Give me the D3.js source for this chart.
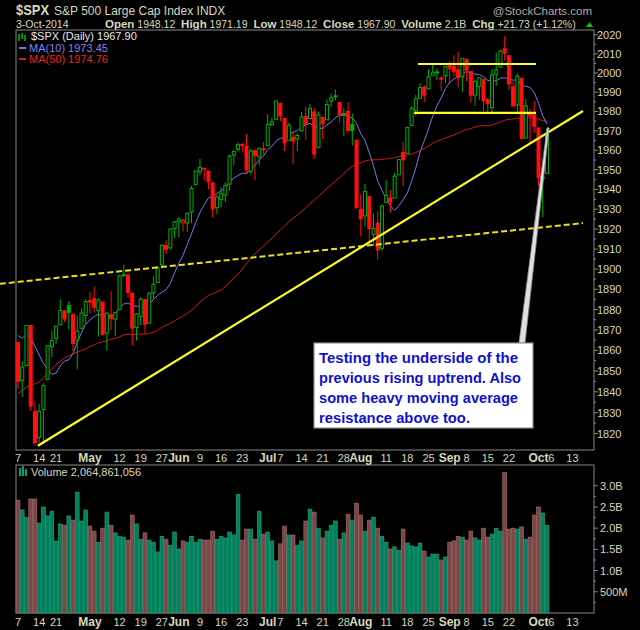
<!DOCTYPE html>
<html><head><meta charset="utf-8">
<script src="https://cdn.jsdelivr.net/npm/d3@7"></script>
<style>body{margin:0;background:#000}svg{display:block}</style>
</head><body><svg id="c" width="640" height="630"></svg>
<script>
// ---- DATA ----
const dates = ["Apr 7","Apr 8","Apr 9","Apr 10","Apr 11","Apr 14","Apr 15","Apr 16","Apr 17","Apr 21","Apr 22","Apr 23","Apr 24","Apr 25","Apr 28","Apr 29","Apr 30",
"May 1","May 2","May 5","May 6","May 7","May 8","May 9","May 12","May 13","May 14","May 15","May 16","May 19","May 20","May 21","May 22","May 23","May 27","May 28","May 29","May 30",
"Jun 2","Jun 3","Jun 4","Jun 5","Jun 6","Jun 9","Jun 10","Jun 11","Jun 12","Jun 13","Jun 16","Jun 17","Jun 18","Jun 19","Jun 20","Jun 23","Jun 24","Jun 25","Jun 26","Jun 27","Jun 30",
"Jul 1","Jul 2","Jul 3","Jul 7","Jul 8","Jul 9","Jul 10","Jul 11","Jul 14","Jul 15","Jul 16","Jul 17","Jul 18","Jul 21","Jul 22","Jul 23","Jul 24","Jul 25","Jul 28","Jul 29","Jul 30","Jul 31",
"Aug 1","Aug 4","Aug 5","Aug 6","Aug 7","Aug 8","Aug 11","Aug 12","Aug 13","Aug 14","Aug 15","Aug 18","Aug 19","Aug 20","Aug 21","Aug 22","Aug 25","Aug 26","Aug 27","Aug 28","Aug 29",
"Sep 2","Sep 3","Sep 4","Sep 5","Sep 8","Sep 9","Sep 10","Sep 11","Sep 12","Sep 15","Sep 16","Sep 17","Sep 18","Sep 19","Sep 22","Sep 23","Sep 24","Sep 25","Sep 26","Sep 29","Sep 30",
"Oct 1","Oct 2","Oct 3"];
const open = [1863.92,1845.48,1852.64,1872.28,1830.65,1818.18,1831.45,1846.01,1861.73,1865.79,1872.57,1879.32,1881.97,1877.72,1865.00,1870.78,1877.10,
1884.39,1885.30,1879.45,1883.69,1868.53,1877.39,1875.27,1880.03,1896.75,1897.13,1888.16,1871.19,1876.66,1884.88,1873.34,1888.19,1893.32,1902.01,1911.77,1910.60,1920.33,
1923.87,1923.07,1923.06,1928.52,1942.41,1948.97,1950.34,1949.37,1943.35,1930.80,1934.84,1937.15,1942.73,1957.50,1960.45,1962.92,1961.97,1949.27,1959.89,1956.56,1960.79,
1962.29,1973.06,1975.88,1984.22,1976.39,1965.10,1966.67,1965.76,1969.86,1977.36,1976.35,1979.75,1961.54,1976.93,1975.65,1985.32,1988.07,1984.60,1978.25,1980.03,1973.21,1965.14,
1929.80,1926.62,1936.34,1917.29,1923.03,1910.35,1933.43,1935.73,1935.60,1947.41,1958.87,1958.36,1972.73,1980.46,1986.82,1992.60,1991.74,1998.59,2000.54,1997.42,1998.45,
2004.07,2003.57,2001.67,1998.00,2007.17,2000.73,1988.41,1992.85,1996.74,1986.04,1981.93,1999.30,2003.07,2012.74,2009.08,1992.78,1983.34,1997.32,1966.22,1978.96,1978.21,
1971.44,1945.83,1948.12];
const high = [1864.04,1854.95,1872.43,1872.53,1835.07,1834.19,1844.02,1862.31,1869.63,1871.89,1884.89,1879.75,1884.06,1877.72,1877.01,1880.60,1885.20,
1888.59,1891.33,1885.51,1883.69,1878.83,1889.07,1878.57,1897.13,1902.17,1897.13,1888.16,1878.28,1886.00,1884.88,1888.80,1896.33,1901.26,1912.28,1914.46,1920.03,1924.03,
1925.88,1925.07,1928.63,1941.74,1949.44,1955.55,1950.86,1949.37,1943.35,1937.30,1941.15,1943.69,1957.74,1959.87,1963.91,1963.74,1968.17,1960.83,1959.89,1961.47,1964.24,
1978.58,1976.67,1985.59,1984.22,1976.39,1974.15,1969.84,1968.67,1979.85,1982.52,1983.94,1981.80,1979.91,1976.93,1986.24,1989.23,1991.39,1984.60,1981.52,1984.85,1978.90,1965.14,
1937.35,1942.92,1936.34,1927.91,1928.89,1932.38,1944.90,1939.65,1948.41,1955.23,1964.04,1971.99,1982.57,1988.57,1994.76,1993.54,2001.95,2005.04,2002.14,1998.55,2003.38,
2006.12,2009.28,2011.17,2007.71,2007.17,2001.01,1996.66,1997.65,1996.74,1987.18,2002.28,2010.74,2012.34,2019.26,2009.08,1995.41,1999.79,1997.32,1986.37,1981.28,1985.17,
1971.44,1952.32,1971.19];
const low = [1841.48,1837.49,1852.38,1830.87,1814.36,1815.80,1816.29,1846.01,1856.72,1863.18,1872.57,1873.91,1870.24,1859.70,1850.61,1870.78,1872.69,
1878.04,1878.50,1866.77,1867.72,1859.79,1870.05,1867.02,1880.03,1896.06,1885.77,1862.36,1864.82,1872.42,1868.14,1873.34,1885.39,1893.32,1902.01,1907.30,1909.82,1915.65,
1915.98,1918.79,1918.60,1922.93,1942.41,1947.16,1944.64,1940.08,1925.78,1927.69,1930.91,1933.55,1939.29,1952.26,1959.17,1958.89,1948.34,1947.49,1944.69,1952.18,1958.22,
1962.29,1972.58,1975.88,1974.88,1959.46,1965.10,1952.86,1959.63,1969.86,1965.34,1975.67,1955.59,1960.82,1965.77,1975.65,1982.44,1985.79,1974.37,1967.31,1969.95,1962.42,1930.67,
1916.37,1921.20,1913.77,1911.45,1904.78,1909.01,1933.43,1928.29,1935.60,1947.41,1941.50,1958.36,1972.73,1977.68,1986.82,1984.76,1991.74,1998.59,1996.20,1990.52,1994.65,
1994.85,1998.14,1992.44,1990.10,1995.60,1984.61,1982.99,1985.93,1980.26,1978.48,1979.06,1993.29,2003.07,2006.59,1991.01,1982.77,1978.63,1965.99,1966.22,1964.04,1968.96,
1941.72,1926.03,1948.12];
const close = [1845.04,1851.96,1872.18,1833.08,1815.69,1830.61,1842.98,1862.31,1864.85,1871.89,1879.55,1875.39,1878.61,1863.40,1869.43,1878.33,1883.95,
1883.68,1881.14,1884.66,1867.72,1878.21,1875.63,1878.48,1896.65,1897.45,1888.53,1870.85,1877.86,1885.08,1872.83,1888.03,1892.49,1900.53,1911.91,1909.78,1920.03,1923.57,
1924.97,1924.24,1927.88,1940.46,1949.44,1951.27,1950.79,1943.89,1930.11,1936.16,1937.78,1941.99,1956.98,1959.48,1962.87,1962.61,1949.98,1959.53,1957.22,1960.96,1960.23,
1973.32,1974.62,1985.44,1977.65,1963.71,1972.83,1964.68,1967.57,1977.10,1973.28,1981.57,1958.12,1978.22,1973.63,1983.53,1987.01,1987.98,1978.34,1978.91,1969.95,1970.07,1930.67,
1925.15,1938.99,1920.21,1920.24,1909.57,1931.59,1936.92,1933.75,1946.72,1955.18,1955.06,1971.74,1981.60,1986.51,1992.37,1988.40,1997.92,2000.02,2000.12,1996.74,2003.37,
2002.28,2000.72,1997.65,2007.71,2001.54,1988.44,1995.69,1997.45,1985.54,1984.13,1998.98,2001.57,2011.36,2010.40,1994.29,1982.77,1998.30,1965.99,1982.85,1977.80,1972.29,
1946.16,1946.17,1967.90];
// closes before Apr 7 (for moving averages)
const priorCloses = [1790.29,1781.56,1792.50,1774.20,1794.19,1782.59,1741.89,1755.20,1751.64,1773.43,1797.02,1799.84,1819.75,1819.26,1829.83,1838.63,1840.76,1828.75,1839.78,1836.25,
1847.61,1845.12,1845.16,1854.29,1859.45,1845.73,1873.91,1873.81,1877.03,1878.04,1877.17,1867.63,1868.20,1846.34,1841.13,1858.83,1872.25,1860.77,1872.01,1866.52,
1857.44,1865.62,1852.56,1849.04,1857.62,1872.34,1885.52,1890.90,1888.77,1865.09];
// volume, billions
const volume = [2.66,2.43,2.25,2.69,2.69,2.12,2.50,2.29,2.40,1.70,2.10,2.07,2.29,2.19,2.85,2.17,2.43,2.05,1.93,1.67,2.00,2.38,2.07,1.89,1.81,1.79,1.72,2.31,2.10,1.74,
1.89,1.72,1.67,1.44,1.81,1.74,1.60,1.91,1.51,1.70,1.67,1.81,1.67,1.74,1.72,1.72,1.93,1.74,1.81,1.77,1.91,1.84,2.80,1.72,1.98,1.98,1.74,2.40,1.86,1.91,
1.70,1.23,1.63,2.05,1.84,1.84,1.60,1.70,2.17,2.45,2.38,2.00,1.77,1.93,2.07,2.17,1.74,1.89,2.33,2.19,2.59,2.31,1.93,2.19,2.26,2.00,1.81,1.67,1.51,1.56,
1.48,1.98,1.65,1.58,1.56,1.65,1.46,1.32,1.39,1.39,1.25,1.32,1.67,1.70,1.81,1.79,1.72,1.93,1.77,1.72,2.00,1.79,1.86,2.00,1.93,3.32,1.98,2.00,1.98,2.03,
1.74,1.79,2.31,2.50,2.36,2.07];
// x-axis labels: [bar index, text, isMonth]
const xLabels = [[0,"7",0],[5,"14",0],[9,"21",0],[17,"May",1],[24,"12",0],[29,"19",0],[34,"27",0],[38,"Jun",1],[43,"9",0],[48,"16",0],[53,"23",0],
[59,"Jul",1],[62,"7",0],[67,"14",0],[72,"21",0],[77,"28",0],[81,"Aug",1],[87,"11",0],[92,"18",0],[97,"25",0],[102,"Sep",1],[106,"8",0],[111,"15",0],[116,"22",0],
[123,"Oct",1],[126,"6",0],[131,"13",0]];
const priceTicks = d3.range(1820, 2021, 10);
const volTicks = [[0.5,"500M"],[1.0,"1.0B"],[1.5,"1.5B"],[2.0,"2.0B"],[2.5,"2.5B"],[3.0,"3.0B"]];
// annotations in [bar index, price]
const trendSolid = [[4.7,1814.2],[133.5,1980.2]];
const trendDashed = [[-4.3,1892.7],[133.5,1923.0]];
const resistTop = [[94.5,2004.7],[122.4,2004.7]];
const resistLow = [[93.6,1979.2],[122.4,1979.2]];
const calloutTip = [125.5,1971.5];
const calloutLines = ["Testing the underside of the","previous rising uptrend. Also","some heavy moving average","resistance above too."];

// ---- DRAW ----
const svg = d3.select("#c");
const tan = "#d8d8b8";
const F = "Liberation Sans, Arial, sans-serif";
const x = d3.scaleLinear().domain([0,125]).range([18,547]);
const y = d3.scaleLog().domain([1812.2,2022.6]).range([450,30]);
const yv = d3.scaleLinear().domain([0,3.49]).range([613,465]);
const L=16, R=594;

// header
svg.append("text").attr("x",16).attr("y",15).attr("fill",tan).attr("font-family",F).attr("font-weight","bold").attr("font-size",15).attr("textLength",33).attr("lengthAdjust","spacingAndGlyphs").text("$SPX");
svg.append("text").attr("x",54).attr("y",15).attr("fill",tan).attr("font-family",F).attr("font-size",12).text("S&P 500 Large Cap Index  INDX");
svg.append("text").attr("x",592).attr("y",15).attr("text-anchor","end").attr("fill","#aaaaaa").attr("font-family",F).attr("font-size",11.5).text("@StockCharts.com");
svg.append("text").attr("x",16).attr("y",27.5).attr("fill",tan).attr("font-family",F).attr("font-size",10.5).text("3-Oct-2014");
const hdr = svg.append("text").attr("x",105).attr("y",27.5).attr("fill",tan).attr("font-family",F).attr("font-size",10.5);
[["Open"," 1948.12  "],["High"," 1971.19  "],["Low"," 1948.12  "],["Close"," 1967.90  "],["Volume"," 2.1B  "],["Chg"," +21.73 (+1.12%)"]].forEach(p=>{
  hdr.append("tspan").attr("font-weight","bold").attr("font-size",11.5).text(p[0]);
  hdr.append("tspan").attr("xml:space","preserve").text(p[1]);
});
svg.append("path").attr("d","M586,27 L589.5,22 L593,27 Z").attr("fill","#00cc00");

// panels
svg.append("rect").attr("x",L).attr("y",30).attr("width",R-L).attr("height",420).attr("fill","none").attr("stroke","#888");
svg.append("rect").attr("x",L).attr("y",465).attr("width",R-L).attr("height",148).attr("fill","none").attr("stroke","#888");

// price axis ticks
priceTicks.forEach(p=>{
  svg.append("line").attr("x1",R).attr("x2",R+4).attr("y1",y(p)).attr("y2",y(p)).attr("stroke","#888");
  svg.append("text").attr("x",R+3).attr("y",y(p)+4).attr("fill",tan).attr("font-family",F).attr("font-size",11).text(p);
});
priceTicks.slice(0,-1).forEach(p=>{
  svg.append("line").attr("x1",R).attr("x2",R+2).attr("y1",y(p+5)).attr("y2",y(p+5)).attr("stroke","#888");
});
volTicks.forEach(t=>{
  svg.append("line").attr("x1",R).attr("x2",R+4).attr("y1",yv(t[0])).attr("y2",yv(t[0])).attr("stroke","#888");
  svg.append("text").attr("x",R+6).attr("y",yv(t[0])+4).attr("fill",tan).attr("font-family",F).attr("font-size",11).text(t[1]);
  svg.append("line").attr("x1",R).attr("x2",R+2).attr("y1",yv(t[0]-0.25)).attr("y2",yv(t[0]-0.25)).attr("stroke","#888");
});
// x labels
[458,622].forEach(yy=>{
  xLabels.forEach(l=>{
    svg.append("text").attr("x",x(l[0])).attr("y",yy+4).attr("text-anchor","middle").attr("fill",tan)
      .attr("font-family",F).attr("font-size",l[2]?12:11).attr("font-weight",l[2]?"bold":"normal").text(l[1]);
  });
});

// clip
svg.append("clipPath").attr("id","pc").append("rect").attr("x",L).attr("y",30).attr("width",R-L).attr("height",420);

// volume bars
const prevClose = i => i===0 ? priorCloses[priorCloses.length-1] : close[i-1];
volume.forEach((v,i)=>{
  const up = close[i] >= prevClose(i);
  svg.append("rect").attr("x",x(i)-1.9).attr("y",yv(v)).attr("width",3.8).attr("height",yv(0)-yv(v))
    .attr("fill",up?"#00805c":"#7a4646").attr("stroke",up?"#30a07a":"#a87070").attr("stroke-width",0.6);
});
svg.append("rect").attr("x",19).attr("y",468).attr("width",2).attr("height",8).attr("fill","#00a070");
svg.append("rect").attr("x",22).attr("y",466).attr("width",2).attr("height",10).attr("fill","#00a070");
svg.append("rect").attr("x",25).attr("y",469).attr("width",2).attr("height",7).attr("fill","#00a070");
svg.append("text").attr("x",31).attr("y",476).attr("fill",tan).attr("font-family",F).attr("font-size",11).text("Volume 2,064,861,056");

// moving averages
const all = priorCloses.concat(close);
const off = priorCloses.length;
const ma = k => close.map((c,i)=>d3.mean(all.slice(off+i-k+1, off+i+1)));
const ma10 = ma(10), ma50 = ma(50);
const line = d3.line().x((d,i)=>x(i)).y(d=>y(d));
const g = svg.append("g").attr("clip-path","url(#pc)");
g.append("path").attr("d",line(ma50)).attr("fill","none").attr("stroke","#d01818").attr("stroke-width",1);
g.append("path").attr("d",line(ma10)).attr("fill","none").attr("stroke","#7878e8").attr("stroke-width",1);

// candles
close.forEach((c,i)=>{
  const o=open[i], up = c >= prevClose(i), col = up ? "#00b000" : "#ff1010";
  const hollow = c >= o;
  const top = y(Math.max(o,c)), bot = y(Math.min(o,c));
  g.append("line").attr("x1",x(i)).attr("x2",x(i)).attr("y1",y(high[i])).attr("y2",y(low[i])).attr("stroke",col).attr("stroke-width",1);
  g.append("rect").attr("x",x(i)-1.5).attr("y",top).attr("width",3).attr("height",Math.max(bot-top,1))
    .attr("fill",hollow?"#000":col).attr("stroke",col).attr("stroke-width",1);
});

// trend lines
const al = d3.line().x(d=>x(d[0])).y(d=>y(d[1]));
const ga = svg.append("g").attr("clip-path","url(#pc)");
const ga2 = svg.append("g");
ga2.append("path").attr("d",al(trendDashed)).attr("stroke","#e8e020").attr("stroke-width",2).attr("stroke-dasharray","6,3").attr("fill","none");
ga.append("path").attr("d",al(resistTop)).attr("stroke","#ffff20").attr("stroke-width",2.2).attr("fill","none");
ga.append("path").attr("d",al(resistLow)).attr("stroke","#ffff20").attr("stroke-width",2.2).attr("fill","none");
ga2.append("path").attr("d",al(trendSolid)).attr("stroke","#ffff20").attr("stroke-width",2.2).attr("fill","none");

// legend
svg.append("rect").attr("x",18).attr("y",32).attr("width",10).attr("height",9).attr("fill","#000");
svg.append("path").attr("d","M19,34 v7 M22,33 v6 M25,35 v6").attr("stroke","#00c000").attr("stroke-width",1.5);
svg.append("text").attr("x",31).attr("y",40).attr("fill","#e8e8e8").attr("font-family",F).attr("font-size",11).text("$SPX (Daily) 1967.90");
svg.append("line").attr("x1",19).attr("x2",26).attr("y1",48).attr("y2",48).attr("stroke","#7878e8").attr("stroke-width",2);
svg.append("text").attr("x",29).attr("y",52).attr("fill","#8080f0").attr("font-family",F).attr("font-size",11).text("MA(10) 1973.45");
svg.append("line").attr("x1",19).attr("x2",26).attr("y1",59).attr("y2",59).attr("stroke","#e01818").attr("stroke-width",2);
svg.append("text").attr("x",29).attr("y",63).attr("fill","#f02020").attr("font-family",F).attr("font-size",11).text("MA(50) 1974.76");

// callout
const bx=314, by=343, bw=219, bh=85;
const tx = x(calloutTip[0]), ty = y(calloutTip[1]);
svg.append("path").attr("d",`M${bx+bw-8},${by} L${tx},${ty} L${tx-2},${ty} L${bx+bw-14},${by} Z`).attr("fill","#e0e0e0").attr("stroke","#909090").attr("stroke-width",0.8);
svg.append("rect").attr("x",bx).attr("y",by).attr("width",bw).attr("height",bh).attr("fill","#fff").attr("stroke","#909090").attr("stroke-width",1.2);
const lens=[199,202,199,151];
calloutLines.forEach((t,i)=>{
  svg.append("text").attr("x",bx+5).attr("y",by+20+i*20).attr("fill","#1010d0").attr("font-family",F).attr("font-weight","bold")
    .attr("font-size",15).attr("textLength",lens[i]).attr("lengthAdjust","spacingAndGlyphs").text(t);
});
</script></body></html>
